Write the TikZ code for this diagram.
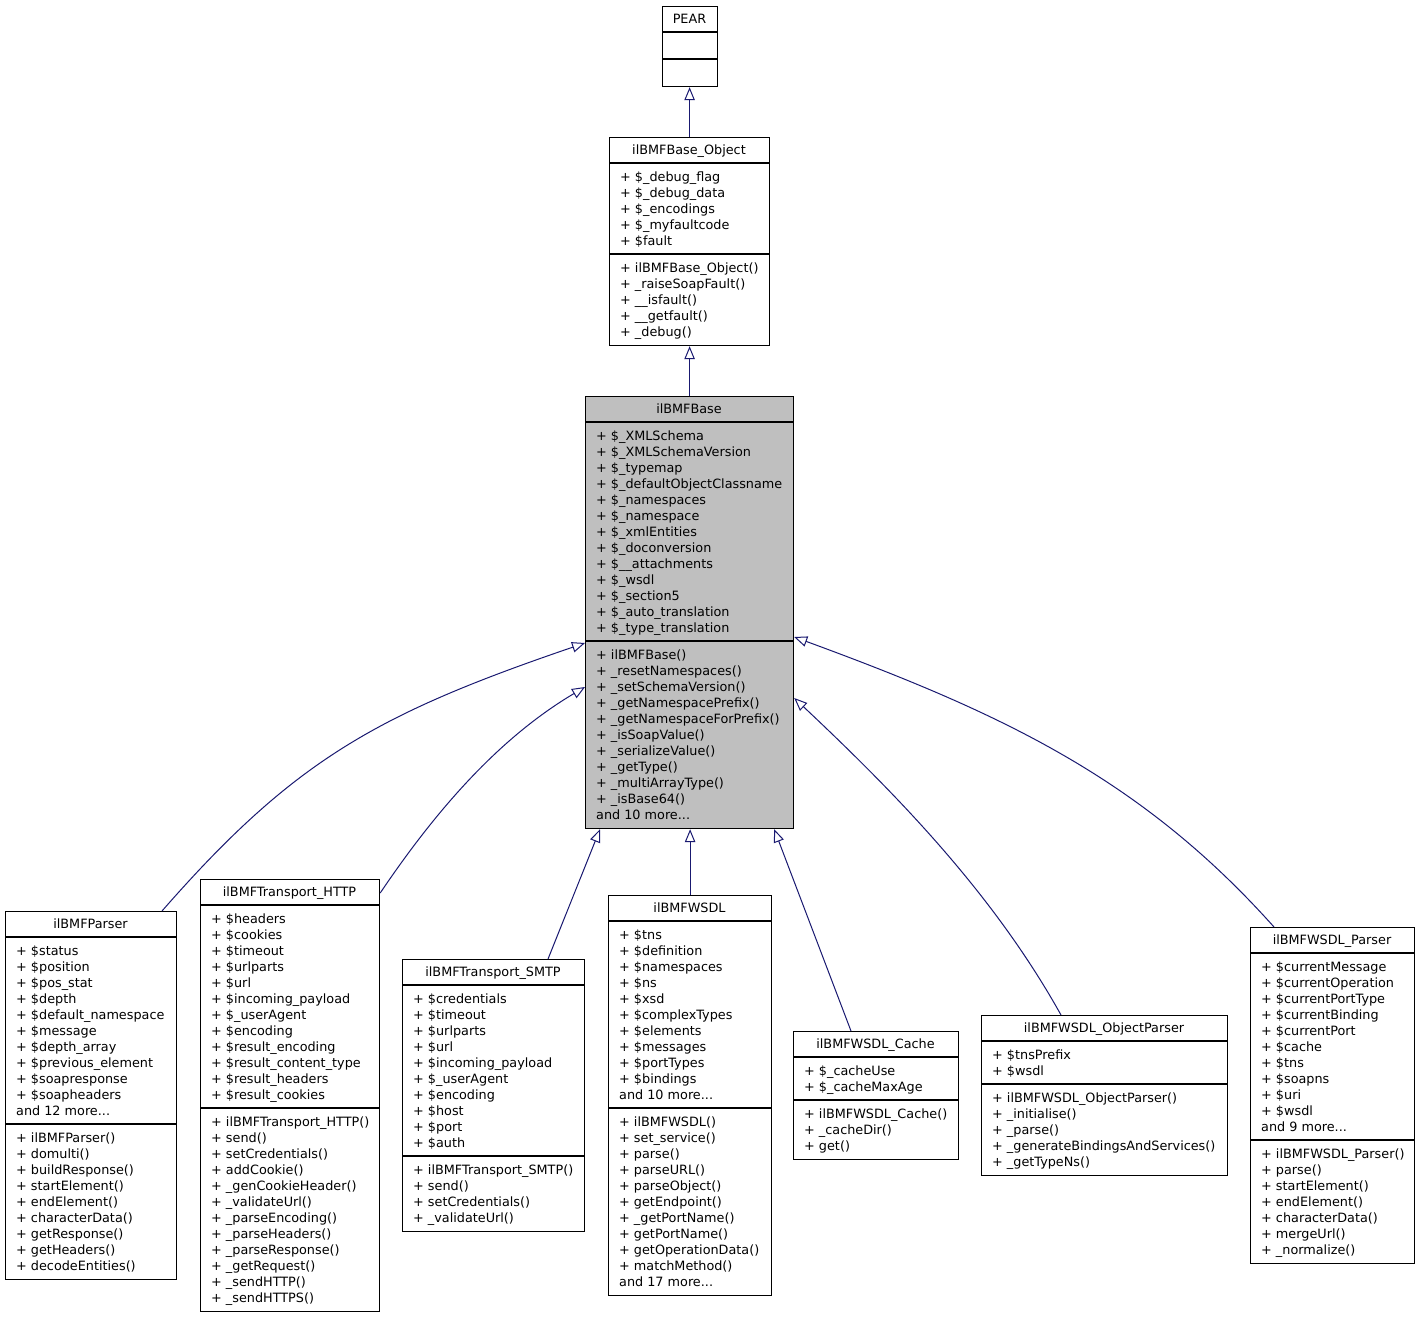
\documentclass[tikz,border=0pt]{standalone}
\usepackage{fontspec}
\setmainfont{DejaVu Sans}
\usetikzlibrary{arrows.meta}

\definecolor{edgeblue}{HTML}{191970}
\definecolor{basegray}{HTML}{BFBFBF}

\tikzset{
  classbox/.style={draw=black, line width=1.2pt, fill=white, inner sep=0pt, anchor=north west},
  base box/.style={fill=basegray},
  sepline/.style={draw=black, line width=1.8pt},
  clstitle/.style={anchor=base, inner sep=0pt, font=\fontsize{12.8pt}{16pt}\selectfont},
  clstext/.style={anchor=north west, inner sep=0pt, align=left, font=\fontsize{12.8pt}{16pt}\selectfont},
  inherit/.style={draw=edgeblue, line width=1pt, -{Triangle[open, length=13pt, width=10.5pt]}},
}

% name, left, top, width, #attrs, #methods, title, attrs, methods
\newcommand\umlclass[9]{%
  \pgfmathsetmacro\cyA{#3+26}%
  \pgfmathsetmacro\cyB{\cyA+16*#5+11}%
  \pgfmathsetmacro\cyC{\cyB+16*#6+11}%
  \pgfmathsetmacro\chH{\cyC-#3}%
  \pgfmathsetmacro\cxM{#2+#4/2}%
  \node[classbox, #1 box/.try, minimum width=#4pt, minimum height=\chH pt] (#1) at (#2,#3) {};
  \draw[sepline] (#1.north west |- 0,\cyA) -- (#1.north east |- 0,\cyA);
  \draw[sepline] (#1.north west |- 0,\cyB) -- (#1.north east |- 0,\cyB);
  \node[clstitle] (#1-title) at (\cxM,#3+17.5) {#7};
  \node[clstext] (#1-attr) at (#2+11,\cyA+5.5) {\rule{0pt}{12.5pt}#8};
  \node[clstext] (#1-meth) at (#2+11,\cyB+5.5) {\rule{0pt}{12.5pt}#9};
}

\begin{document}
\begin{tikzpicture}[x=1pt, y=-1pt]
\useasboundingbox (0,0) rectangle (1419,1317);

\umlclass{pear}{662}{6}{55}{1}{1}{PEAR}{}{}

\umlclass{baseobject}{609}{137}{160}{5}{5}{ilBMFBase\_Object}
  {+ \$\_debug\_flag\\+ \$\_debug\_data\\+ \$\_encodings\\+ \$\_myfaultcode\\+ \$fault}
  {+ ilBMFBase\_Object()\\+ \_raiseSoapFault()\\+ \_\_isfault()\\+ \_\_getfault()\\+ \_debug()}

\umlclass{base}{585}{396}{208}{13}{11}{ilBMFBase}
  {+ \$\_XMLSchema\\+ \$\_XMLSchemaVersion\\+ \$\_typemap\\+ \$\_defaultObjectClassname\\+ \$\_namespaces\\+ \$\_namespace\\+ \$\_xmlEntities\\+ \$\_doconversion\\+ \$\_\_attachments\\+ \$\_wsdl\\+ \$\_section5\\+ \$\_auto\_translation\\+ \$\_type\_translation}
  {+ ilBMFBase()\\+ \_resetNamespaces()\\+ \_setSchemaVersion()\\+ \_getNamespacePrefix()\\+ \_getNamespaceForPrefix()\\+ \_isSoapValue()\\+ \_serializeValue()\\+ \_getType()\\+ \_multiArrayType()\\+ \_isBase64()\\and 10 more...}

\umlclass{parser}{5}{911}{171}{11}{9}{ilBMFParser}
  {+ \$status\\+ \$position\\+ \$pos\_stat\\+ \$depth\\+ \$default\_namespace\\+ \$message\\+ \$depth\_array\\+ \$previous\_element\\+ \$soapresponse\\+ \$soapheaders\\and 12 more...}
  {+ ilBMFParser()\\+ domulti()\\+ buildResponse()\\+ startElement()\\+ endElement()\\+ characterData()\\+ getResponse()\\+ getHeaders()\\+ decodeEntities()}

\umlclass{http}{200}{879}{179}{12}{12}{ilBMFTransport\_HTTP}
  {+ \$headers\\+ \$cookies\\+ \$timeout\\+ \$urlparts\\+ \$url\\+ \$incoming\_payload\\+ \$\_userAgent\\+ \$encoding\\+ \$result\_encoding\\+ \$result\_content\_type\\+ \$result\_headers\\+ \$result\_cookies}
  {+ ilBMFTransport\_HTTP()\\+ send()\\+ setCredentials()\\+ addCookie()\\+ \_genCookieHeader()\\+ \_validateUrl()\\+ \_parseEncoding()\\+ \_parseHeaders()\\+ \_parseResponse()\\+ \_getRequest()\\+ \_sendHTTP()\\+ \_sendHTTPS()}

\umlclass{smtp}{402}{959}{182}{10}{4}{ilBMFTransport\_SMTP}
  {+ \$credentials\\+ \$timeout\\+ \$urlparts\\+ \$url\\+ \$incoming\_payload\\+ \$\_userAgent\\+ \$encoding\\+ \$host\\+ \$port\\+ \$auth}
  {+ ilBMFTransport\_SMTP()\\+ send()\\+ setCredentials()\\+ \_validateUrl()}

\umlclass{wsdl}{608}{895}{163}{11}{11}{ilBMFWSDL}
  {+ \$tns\\+ \$definition\\+ \$namespaces\\+ \$ns\\+ \$xsd\\+ \$complexTypes\\+ \$elements\\+ \$messages\\+ \$portTypes\\+ \$bindings\\and 10 more...}
  {+ ilBMFWSDL()\\+ set\_service()\\+ parse()\\+ parseURL()\\+ parseObject()\\+ getEndpoint()\\+ \_getPortName()\\+ getPortName()\\+ getOperationData()\\+ matchMethod()\\and 17 more...}

\umlclass{cache}{793}{1031}{165}{2}{3}{ilBMFWSDL\_Cache}
  {+ \$\_cacheUse\\+ \$\_cacheMaxAge}
  {+ ilBMFWSDL\_Cache()\\+ \_cacheDir()\\+ get()}

\umlclass{objparser}{981}{1015}{246}{2}{5}{ilBMFWSDL\_ObjectParser}
  {+ \$tnsPrefix\\+ \$wsdl}
  {+ ilBMFWSDL\_ObjectParser()\\+ \_initialise()\\+ \_parse()\\+ \_generateBindingsAndServices()\\+ \_getTypeNs()}

\umlclass{wsdlparser}{1250}{927}{164}{11}{7}{ilBMFWSDL\_Parser}
  {+ \$currentMessage\\+ \$currentOperation\\+ \$currentPortType\\+ \$currentBinding\\+ \$currentPort\\+ \$cache\\+ \$tns\\+ \$soapns\\+ \$uri\\+ \$wsdl\\and 9 more...}
  {+ ilBMFWSDL\_Parser()\\+ parse()\\+ startElement()\\+ endElement()\\+ characterData()\\+ mergeUrl()\\+ \_normalize()}

% inheritance
\draw[inherit] (baseobject.north) -- (baseobject.north |- pear.south);
\draw[inherit] (base.north) -- (baseobject.south);
\draw[inherit] ([xshift=157pt]parser.north west) .. controls +(132,-151) and +(-208,71) .. ([yshift=-247pt]base.north west);
\draw[inherit] ([yshift=-14pt]http.north east) .. controls +(56,-83) and +(-86,51) .. ([yshift=-291pt]base.north west);
\draw[inherit] ([xshift=146pt]smtp.north west) -- ([xshift=15pt]base.south west);
\draw[inherit] (wsdl.north) -- (wsdl.north |- base.south);
\draw[inherit] ([xshift=58pt]cache.north west) -- ([xshift=-20pt]base.south east);
\draw[inherit] ([xshift=80pt]objparser.north west) .. controls +(-68,-122) and +(102,96) .. ([yshift=-302pt]base.north east);
\draw[inherit] ([xshift=24pt]wsdlparser.north west) .. controls +(-133,-149) and +(207,76) .. ([yshift=-241pt]base.north east);
\end{tikzpicture}
\end{document}
